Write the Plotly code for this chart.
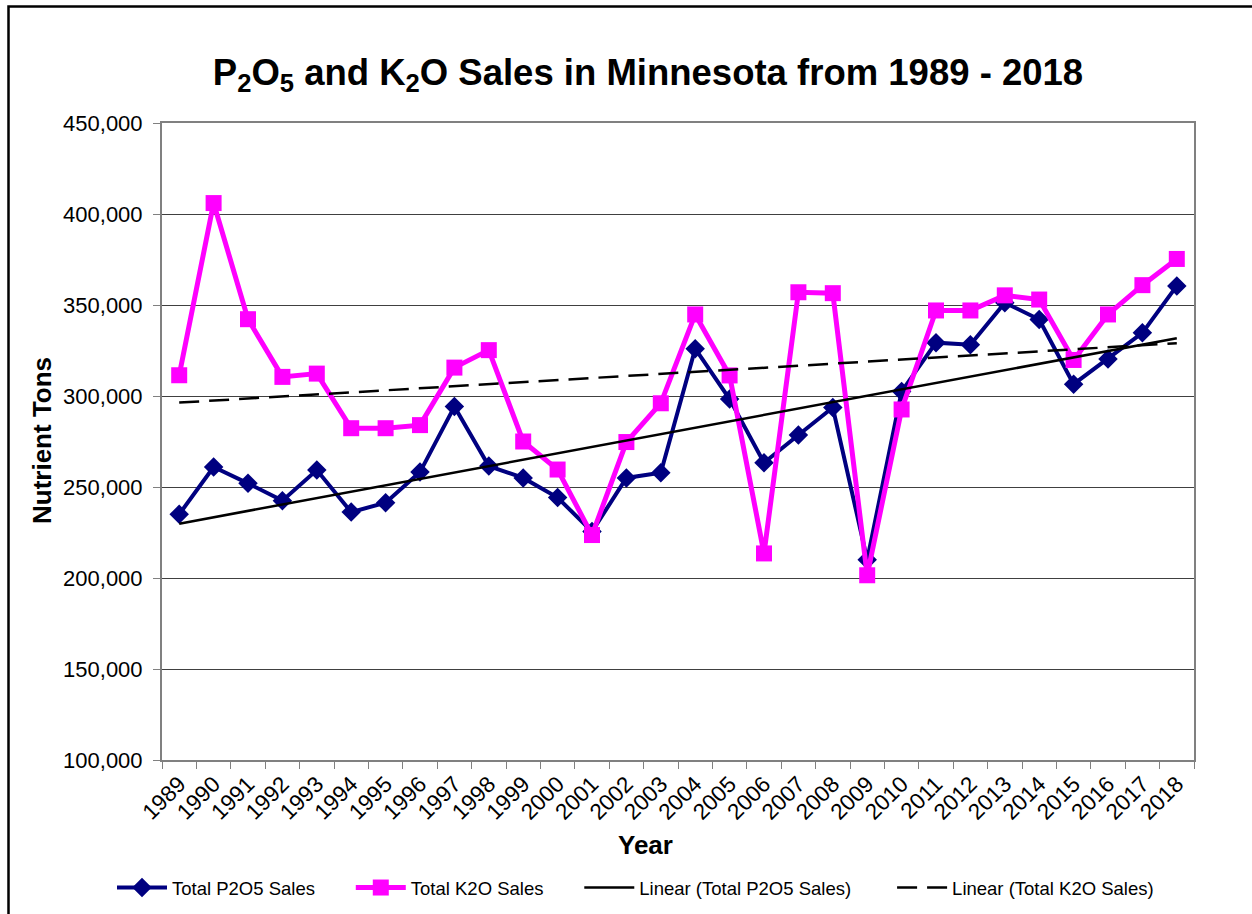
import numpy as np
import plotly.graph_objects as go

years = [str(y) for y in range(1989, 2019)]
p2o5 = [235000, 261000, 252000, 242500, 259300, 236200, 241400, 258200, 294200, 261500,
        255000, 244200, 225500, 255000, 257800, 326000, 298300, 263300, 278600, 293700,
        210000, 302500, 329300, 328200, 351300, 342000, 306500, 320300, 334700, 360500]
k2o = [311400, 406000, 342200, 310500, 312300, 282300, 282300, 284000, 315600, 325200,
       275000, 259600, 223600, 274700, 296000, 344800, 311300, 213500, 357000, 356500,
       201500, 292600, 347000, 347000, 355300, 353000, 319800, 344800, 360900, 375300]

idx = np.arange(len(years))
p_fit = np.polyval(np.polyfit(idx, p2o5, 1), idx)
k_fit = np.polyval(np.polyfit(idx, k2o, 1), idx)

W, H = 1252, 914
L, R, T, B = 162, 1194, 123, 760
pw, ph = R - L, B - T
FONT = "Liberation Sans, Arial, sans-serif"
NB = "\u00a0"

fig = go.Figure()
fig.add_trace(go.Scatter(x=years, y=p2o5, mode="lines+markers",
                         name="Total P2O5 Sales" + NB * 6,
                         line=dict(color="#000080", width=4),
                         marker=dict(symbol="diamond", size=15, color="#000080")))
fig.add_trace(go.Scatter(x=years, y=k2o, mode="lines+markers",
                         name="Total K2O Sales" + NB * 6,
                         line=dict(color="#FF00FF", width=5),
                         marker=dict(symbol="square", size=16, color="#FF00FF")))
fig.add_trace(go.Scatter(x=years, y=p_fit, mode="lines",
                         name="Linear (Total P2O5 Sales)" + NB * 7,
                         line=dict(color="black", width=2.5)))
fig.add_trace(go.Scatter(x=years, y=k_fit, mode="lines",
                         name="Linear (Total K2O Sales)",
                         line=dict(color="black", width=2.5, dash="20px,10px")))

fig.update_layout(
    width=W, height=H,
    margin=dict(l=L, r=W - R, t=T, b=H - B, autoexpand=False),
    paper_bgcolor="white", plot_bgcolor="white",
    font=dict(family=FONT, color="black"),
    title=dict(text="<b>P<sub>2</sub>O<sub>5</sub> and K<sub>2</sub>O Sales in Minnesota from 1989 - 2018</b>",
               x=648 / W, xanchor="center", y=1 - 72 / H, yanchor="middle",
               font=dict(size=36.5, family=FONT)),
    showlegend=True,
    legend=dict(orientation="h", x=(112 - L) / pw, xanchor="left",
                y=(B - 888) / ph, yanchor="middle",
                font=dict(size=18.5, family=FONT), itemwidth=50,
                bgcolor="rgba(0,0,0,0)"),
    xaxis=dict(type="category", range=[-0.5, len(years) - 0.5],
               tickangle=-45, tickfont=dict(size=22.5, family=FONT),
               showline=True, linecolor="#808080", linewidth=2, mirror=True,
               ticks="outside", tickson="boundaries", ticklen=7, tickcolor="#808080",
               showgrid=False, zeroline=False, automargin=False),
    yaxis=dict(range=[100000, 450000], dtick=50000, tickformat=",",
               tickfont=dict(size=22, family=FONT), ticklabelstandoff=6,
               showline=True, linecolor="#808080", linewidth=2, mirror=True,
               ticks="outside", ticklen=7, tickcolor="#808080",
               showgrid=True, gridcolor="#404040", gridwidth=1, zeroline=False,
               automargin=False),
    annotations=[
        dict(text="<b>Nutrient Tons</b>", xref="paper", yref="paper",
             x=(42 - L) / pw, y=(B - 441) / ph, xanchor="center", yanchor="middle",
             textangle=-90, showarrow=False, font=dict(size=26, family=FONT)),
        dict(text="<b>Year</b>", xref="paper", yref="paper",
             x=(645 - L) / pw, y=(B - 845) / ph, xanchor="center", yanchor="middle",
             showarrow=False, font=dict(size=26, family=FONT)),
    ],
    shapes=[
        dict(type="rect", xref="paper", yref="paper",
             x0=(8.5 - L) / pw, x1=(1270 - L) / pw,
             y0=(B - 930) / ph, y1=(B - 6.5) / ph,
             line=dict(color="black", width=2.5), fillcolor="rgba(0,0,0,0)", layer="below"),
    ],
)

fig.write_html("out.html", config={"displayModeBar": False},
               post_script="document.body.style.margin='0';")
